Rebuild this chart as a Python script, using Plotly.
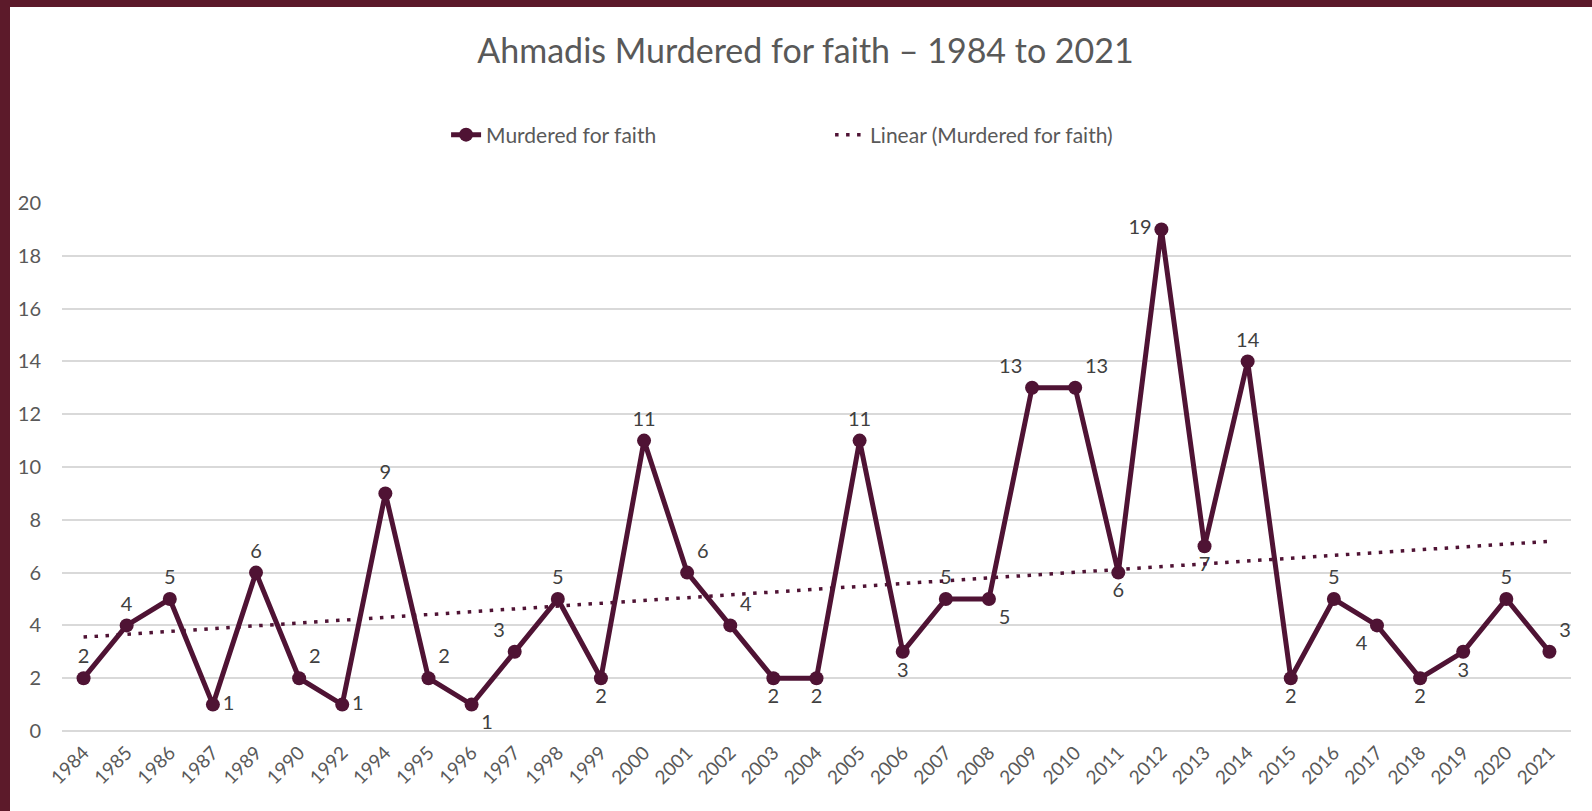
import numpy as np
import plotly.graph_objects as go

years = ["1984", "1985", "1986", "1987", "1989", "1990", "1992", "1994", "1995", "1996",
         "1997", "1998", "1999", "2000", "2001", "2002", "2003", "2004", "2005", "2006",
         "2007", "2008", "2009", "2010", "2011", "2012", "2013", "2014", "2015", "2016",
         "2017", "2018", "2019", "2020", "2021"]
murdered = [2, 4, 5, 1, 6, 2, 1, 9, 2, 1,
            3, 5, 2, 11, 6, 4, 2, 2, 11, 3,
            5, 5, 13, 13, 6, 19, 7, 14, 2, 5,
            4, 2, 3, 5, 3]
label_pos = ["top center", "top center", "top center", "middle right", "top center",
             "top right", "middle right", "top center", "top right", "bottom right",
             "top left", "top center", "bottom center", "top center", "top right",
             "top right", "bottom center", "bottom center", "top center", "bottom center",
             "top center", "bottom right", "top left", "top right", "bottom center",
             "middle left", "bottom center", "top center", "bottom center", "top center",
             "bottom left", "bottom center", "bottom center", "top center", "top right"]

# Linear trendline (least squares over category index, as in Excel)
idx = np.arange(len(murdered))
slope, intercept = np.polyfit(idx, murdered, 1)
trend = slope * idx + intercept

MAROON = "#4f1334"
FONT = "Lato, 'Open Sans', sans-serif"

W, H = 1592, 811
L, R, T, B = 62, 1571, 203, 731

fig = go.Figure()
fig.add_trace(go.Scatter(
    x=years, y=murdered, mode="lines+markers+text", name="Murdered for faith",
    line=dict(color=MAROON, width=5),
    marker=dict(color=MAROON, size=14),
    text=[str(v) for v in murdered], textposition=label_pos,
    textfont=dict(family=FONT, size=20, color="#404040"),
    cliponaxis=False,
))
fig.add_trace(go.Scatter(
    x=years, y=trend, mode="lines", name="Linear (Murdered for faith)",
    line=dict(color=MAROON, width=3.5, dash="3.5px,7.5px"),
    hoverinfo="skip",
))

pw = R - L
ph = B - T
def px_x(p):
    return (p - L) / pw
def px_y(p):
    return (B - p) / ph

shapes = [
    dict(type="rect", xref="paper", yref="paper", x0=px_x(0), x1=px_x(W), y0=px_y(0), y1=px_y(7),
         fillcolor="#5c1a2a", line=dict(width=0), layer="above"),
    dict(type="rect", xref="paper", yref="paper", x0=px_x(0), x1=px_x(10), y0=px_y(H), y1=px_y(0),
         fillcolor="#5c1a2a", line=dict(width=0), layer="above"),
]

fig.update_layout(
    width=W, height=H,
    margin=dict(l=L, r=W - R, t=T, b=H - B, pad=0),
    paper_bgcolor="white", plot_bgcolor="white",
    font=dict(family=FONT, color="#595959"),
    title=dict(text="Ahmadis Murdered for faith – 1984 to 2021",
               x=0.506, xref="container", xanchor="center",
               y=1 - 51 / H, yref="container", yanchor="middle",
               font=dict(family=FONT, size=34, color="#595959")),
    legend=dict(orientation="h", x=0.509, xanchor="center", y=px_y(135), yanchor="middle",
                font=dict(family=FONT, size=21, color="#595959"),
                entrywidth=339, bgcolor="rgba(0,0,0,0)"),
    xaxis=dict(type="category", range=[-0.5, len(years) - 0.5],
               showgrid=False, showline=False, zeroline=False, ticks="",
               tickangle=-45, tickfont=dict(family=FONT, size=19, color="#595959"),
               ticklabelstandoff=6),
    yaxis=dict(range=[0, 20], dtick=2, showgrid=True, gridcolor="#d9d9d9", gridwidth=1.5,
               zeroline=True, zerolinecolor="#d9d9d9", zerolinewidth=1.5,
               showline=False, ticks="",
               tickfont=dict(family=FONT, size=20, color="#595959"),
               ticklabelstandoff=20),
    shapes=shapes,
    showlegend=True,
)

fig.write_html("out.html", config={"displayModeBar": False},
               post_script="document.body.style.margin='0';document.body.style.overflow='hidden';")
